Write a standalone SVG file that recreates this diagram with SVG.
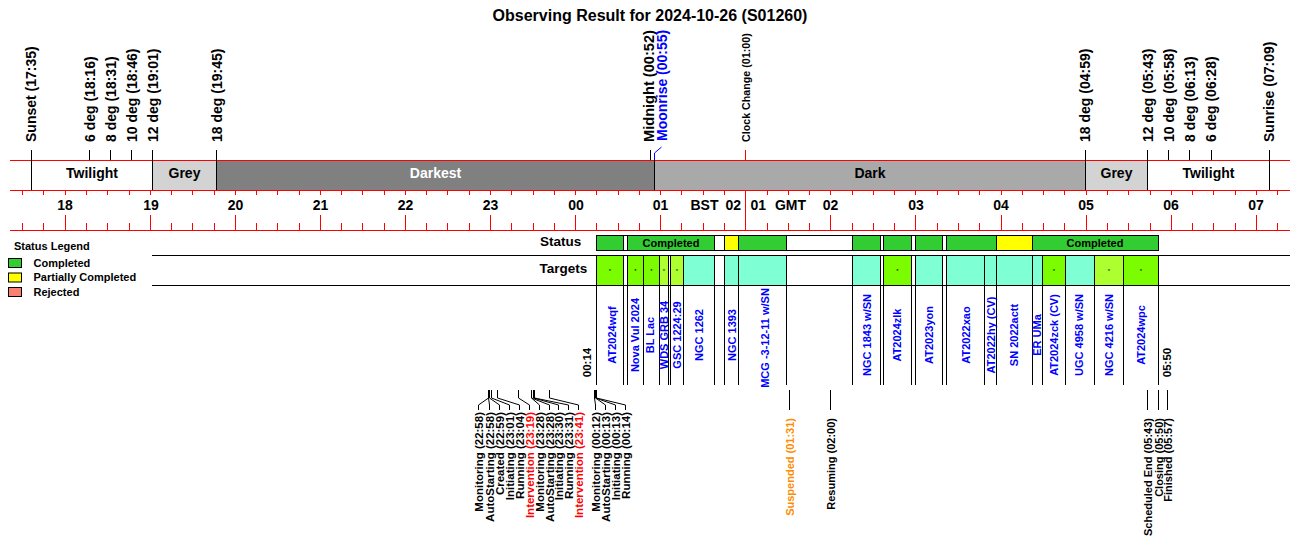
<svg xmlns="http://www.w3.org/2000/svg" width="1300" height="560" viewBox="0 0 1300 560">
<style>
text{font-family:"Liberation Sans",Arial,Helvetica,sans-serif;font-weight:bold;fill:#000}
.title{font-size:16px;text-anchor:middle}
.lab{font-size:14px}
.ax{font-size:14px;text-anchor:middle}
.band{font-size:14px;text-anchor:middle}
.tgt{font-size:11px;fill:#0000ff;text-anchor:middle}
.tm{font-size:11.5px;text-anchor:middle}
.ev{font-size:11.5px;text-anchor:end}
.ev2{font-size:11px;text-anchor:end}
.row{font-size:13.5px}
.lgt{font-size:11px}
.red{stroke:#ff0000;fill:none;stroke-width:1}
.blk{stroke:#000;fill:none;stroke-width:1}
.comp{fill:#32cd32;stroke:#000}
.part{fill:#ffff00;stroke:#000}
.lg{fill:#7cfc00;stroke:#000}
.gy{fill:#adff2f;stroke:#000}
.aq{fill:#7fffd4;stroke:#000}
.star{font-size:6px;text-anchor:middle;font-weight:normal}
</style>
<rect width="1300" height="560" fill="#fff"/>
<text class="title" x="650" y="21">Observing Result for 2024-10-26 (S01260)</text>

<g id="band">
<rect x="152.5" y="160" width="64" height="30" fill="#d3d3d3"/>
<rect x="216.5" y="160" width="438" height="30" fill="#808080"/>
<rect x="654.5" y="160" width="431" height="30" fill="#a9a9a9"/>
<rect x="1085.5" y="160" width="62" height="30" fill="#d3d3d3"/>
<text class="band" x="92" y="178">Twilight</text>
<text class="band" x="184.5" y="178">Grey</text>
<text class="band" x="435.5" y="178" style="fill:#fff">Darkest</text>
<text class="band" x="870" y="178">Dark</text>
<text class="band" x="1116.5" y="178">Grey</text>
<text class="band" x="1208.5" y="178">Twilight</text>
</g>

<g id="axis">
<path class="red" d="M10 160.5H1290M10 190.5H1290M10 230.5H1290"/>
<path class="red" d="M22.5 190V195M43.5 190V195M65.5 190V195M86.5 190V195M107.5 190V195M129.5 190V195M150.5 190V195M171.5 190V195M192.5 190V195M214.5 190V195M235.5 190V195M256.5 190V195M277.5 190V195M299.5 190V195M320.5 190V195M341.5 190V195M362.5 190V195M384.5 190V195M405.5 190V195M426.5 190V195M447.5 190V195M469.5 190V195M490.5 190V195M511.5 190V195M533.5 190V195M554.5 190V195M575.5 190V195M596.5 190V195M618.5 190V195M639.5 190V195M660.5 190V195M681.5 190V195M703.5 190V195M724.5 190V195M767.5 190V195M788.5 190V195M809.5 190V195M830.5 190V195M852.5 190V195M873.5 190V195M894.5 190V195M915.5 190V195M937.5 190V195M958.5 190V195M979.5 190V195M1001.5 190V195M1022.5 190V195M1043.5 190V195M1064.5 190V195M1086.5 190V195M1107.5 190V195M1128.5 190V195M1150.5 190V195M1171.5 190V195M1192.5 190V195M1213.5 190V195M1235.5 190V195M1256.5 190V195M1277.5 190V195"/>
<path class="red" d="M22.5 223V230M43.5 223V230M86.5 223V230M107.5 223V230M129.5 223V230M171.5 223V230M192.5 223V230M214.5 223V230M256.5 223V230M277.5 223V230M299.5 223V230M341.5 223V230M362.5 223V230M384.5 223V230M426.5 223V230M447.5 223V230M469.5 223V230M511.5 223V230M533.5 223V230M554.5 223V230M596.5 223V230M618.5 223V230M639.5 223V230M681.5 223V230M703.5 223V230M724.5 223V230M767.5 223V230M788.5 223V230M809.5 223V230M852.5 223V230M873.5 223V230M894.5 223V230M937.5 223V230M958.5 223V230M979.5 223V230M1022.5 223V230M1043.5 223V230M1064.5 223V230M1107.5 223V230M1128.5 223V230M1150.5 223V230M1192.5 223V230M1213.5 223V230M1235.5 223V230M1277.5 223V230"/>
<path class="red" d="M65.5 215V230M150.5 215V230M235.5 215V230M320.5 215V230M405.5 215V230M490.5 215V230M575.5 215V230M660.5 215V230M830.5 215V230M915.5 215V230M1001.5 215V230M1086.5 215V230M1171.5 215V230M1256.5 215V230M745.5 190V230M745.5 150V160"/>
<text class="ax" x="65" y="209.5">18</text>
<text class="ax" x="151" y="209.5">19</text>
<text class="ax" x="235.5" y="209.5">20</text>
<text class="ax" x="320.5" y="209.5">21</text>
<text class="ax" x="405.5" y="209.5">22</text>
<text class="ax" x="490.5" y="209.5">23</text>
<text class="ax" x="576" y="209.5">00</text>
<text class="ax" x="660.5" y="209.5">01</text>
<text class="ax" x="704.5" y="209.5">BST</text>
<text class="ax" x="741" y="209.5" style="text-anchor:end">02</text>
<text class="ax" x="750.5" y="209.5" style="text-anchor:start">01</text>
<text class="ax" x="790.5" y="209.5">GMT</text>
<text class="ax" x="830.5" y="209.5">02</text>
<text class="ax" x="916" y="209.5">03</text>
<text class="ax" x="1001" y="209.5">04</text>
<text class="ax" x="1086" y="209.5">05</text>
<text class="ax" x="1171" y="209.5">06</text>
<text class="ax" x="1256" y="209.5">07</text>
</g>

<g id="sun-events">
<path class="blk" d="M31.5 150V190M89.5 150V160M110.5 150V160M131.5 150V160M152.5 150V190M216.5 150V190M650.5 150V160M654.5 160V190M1085.5 150V190M1147.5 150V190M1168.5 150V160M1189.5 150V160M1211.5 150V160M1269.5 150V190"/>
<path d="M654.5 160V153L661.5 147" stroke="#0000ff" fill="none"/>
<text class="lab" transform="translate(36,142) rotate(-90)">Sunset (17:35)</text>
<text class="lab" transform="translate(94.5,142) rotate(-90)">6 deg (18:16)</text>
<text class="lab" transform="translate(115.5,142) rotate(-90)">8 deg (18:31)</text>
<text class="lab" transform="translate(136.5,142) rotate(-90)">10 deg (18:46)</text>
<text class="lab" transform="translate(157.5,142) rotate(-90)">12 deg (19:01)</text>
<text class="lab" transform="translate(221.5,142) rotate(-90)">18 deg (19:45)</text>
<text class="lab" transform="translate(653.5,142) rotate(-90)" style="font-size:14.6px">Midnight (00:52)</text>
<text class="lab" transform="translate(666.5,141) rotate(-90)" style="fill:#0000ff">Moonrise (00:55)</text>
<text transform="translate(749.5,142) rotate(-90)" style="font-size:10.7px">Clock Change (01:00)</text>
<text class="lab" transform="translate(1090,142) rotate(-90)">18 deg (04:59)</text>
<text class="lab" transform="translate(1152.5,142) rotate(-90)">12 deg (05:43)</text>
<text class="lab" transform="translate(1173.5,142) rotate(-90)">10 deg (05:58)</text>
<text class="lab" transform="translate(1195,142) rotate(-90)">8 deg (06:13)</text>
<text class="lab" transform="translate(1216,142) rotate(-90)">6 deg (06:28)</text>
<text class="lab" transform="translate(1274,142) rotate(-90)">Sunrise (07:09)</text>
</g>

<g id="legend">
<text class="lgt" x="14" y="249.5">Status Legend</text>
<rect x="8.5" y="258.5" width="13" height="9" fill="#32cd32" stroke="#000"/>
<rect x="8.5" y="273" width="13" height="9" fill="#ffff00" stroke="#000"/>
<rect x="8.5" y="287.5" width="13" height="9" fill="#fa8072" stroke="#000"/>
<text class="lgt" x="33.5" y="266.5">Completed</text>
<text class="lgt" x="33.5" y="281">Partially Completed</text>
<text class="lgt" x="33.5" y="295.5">Rejected</text>
</g>

<g id="status-row">
<text class="row" x="540" y="246">Status</text>
<text class="row" x="539.5" y="273">Targets</text>
<path class="blk" d="M152 255.5H1290M152 285.5H1290"/>
<rect x="596.5" y="235.5" width="562" height="15" fill="#fff" stroke="#000"/>
<rect class="comp" x="596.5" y="235.5" width="27" height="15"/>
<rect class="comp" x="627.5" y="235.5" width="87" height="15"/>
<rect class="part" x="724.5" y="235.5" width="14" height="15"/>
<rect class="comp" x="738.5" y="235.5" width="48" height="15"/>
<rect class="comp" x="852.5" y="235.5" width="28" height="15"/>
<rect class="comp" x="883.5" y="235.5" width="28" height="15"/>
<rect class="comp" x="915.5" y="235.5" width="27" height="15"/>
<rect class="comp" x="946.5" y="235.5" width="50" height="15"/>
<rect class="part" x="996.5" y="235.5" width="36" height="15"/>
<rect class="comp" x="1032.5" y="235.5" width="126" height="15"/>
<text class="lgt" x="671" y="246.5" style="text-anchor:middle">Completed</text>
<text class="lgt" x="1095" y="246.5" style="text-anchor:middle">Completed</text>
</g>

<g id="targets-row">
<rect class="lg" x="596.5" y="255.5" width="27" height="30"/>
<rect class="lg" x="627.5" y="255.5" width="16" height="30"/>
<rect class="lg" x="643.5" y="255.5" width="16" height="30"/>
<rect class="gy" x="659.5" y="255.5" width="9" height="30"/>
<rect class="gy" x="670.5" y="255.5" width="13" height="30"/>
<rect class="aq" x="683.5" y="255.5" width="31" height="30"/>
<rect class="aq" x="724.5" y="255.5" width="14" height="30"/>
<rect class="aq" x="738.5" y="255.5" width="48" height="30"/>
<rect class="aq" x="852.5" y="255.5" width="28" height="30"/>
<rect class="lg" x="883.5" y="255.5" width="28" height="30"/>
<rect class="aq" x="915.5" y="255.5" width="27" height="30"/>
<rect class="aq" x="946.5" y="255.5" width="38" height="30"/>
<rect class="aq" x="984.5" y="255.5" width="12" height="30"/>
<rect class="aq" x="996.5" y="255.5" width="36" height="30"/>
<rect class="aq" x="1032.5" y="255.5" width="10" height="30"/>
<rect class="lg" x="1042.5" y="255.5" width="23" height="30"/>
<rect class="aq" x="1065.5" y="255.5" width="29" height="30"/>
<rect class="gy" x="1094.5" y="255.5" width="29" height="30"/>
<rect class="lg" x="1123.5" y="255.5" width="35" height="30"/>
<text class="star" x="610" y="273">*</text>
<text class="star" x="635.5" y="273">*</text>
<text class="star" x="651.5" y="273">*</text>
<text class="star" x="664" y="273">*</text>
<text class="star" x="677" y="273">*</text>
<text class="star" x="897.5" y="273">*</text>
<text class="star" x="1054" y="273">*</text>
<text class="star" x="1109" y="273">*</text>
<text class="star" x="1141" y="273">*</text>
</g>

<g id="target-columns">
<path class="blk" d="M596.5 285V385M623.5 285V385M627.5 285V385M643.5 285V385M659.5 285V385M668.5 285V385M670.5 285V385M683.5 285V385M714.5 285V385M724.5 285V385M738.5 285V385M786.5 285V385M852.5 285V385M880.5 285V385M883.5 285V385M911.5 285V385M915.5 285V385M942.5 285V385M946.5 285V385M984.5 285V385M996.5 285V385M1032.5 285V385M1042.5 285V385M1065.5 285V385M1094.5 285V385M1123.5 285V385M1158.5 285V385"/>
<text class="tgt" transform="translate(615.5,335) rotate(-90)">AT2024wqf</text>
<text class="tgt" transform="translate(639,335) rotate(-90)">Nova Vul 2024</text>
<text class="tgt" transform="translate(654,335) rotate(-90)">BL Lac</text>
<text class="tgt" transform="translate(668,335) rotate(-90)">WDS GRB 34</text>
<text class="tgt" transform="translate(680.5,335) rotate(-90)">GSC 1224:29</text>
<text class="tgt" transform="translate(703,335) rotate(-90)">NGC 1262</text>
<text class="tgt" transform="translate(735.5,335) rotate(-90)">NGC 1393</text>
<text class="tgt" transform="translate(769,338) rotate(-90)">MCG -3-12-11 w/SN</text>
<text class="tgt" transform="translate(870.5,335) rotate(-90)">NGC 1843 w/SN</text>
<text class="tgt" transform="translate(901,335) rotate(-90)">AT2024zlk</text>
<text class="tgt" transform="translate(933,335) rotate(-90)">AT2023yon</text>
<text class="tgt" transform="translate(970,335) rotate(-90)">AT2022xao</text>
<text class="tgt" transform="translate(995,335) rotate(-90)">AT2022hy (CV)</text>
<text class="tgt" transform="translate(1018,335) rotate(-90)">SN 2022actt</text>
<text class="tgt" transform="translate(1041,335) rotate(-90)">ER UMa</text>
<text class="tgt" transform="translate(1058,335) rotate(-90)">AT2024zck (CV)</text>
<text class="tgt" transform="translate(1083,335) rotate(-90)">UGC 4958 w/SN</text>
<text class="tgt" transform="translate(1113,335) rotate(-90)">NGC 4216 w/SN</text>
<text class="tgt" transform="translate(1145,335) rotate(-90)">AT2024wpc</text>
<text class="tm" transform="translate(591,362.5) rotate(-90)">00:14</text>
<text class="tm" transform="translate(1171,362.5) rotate(-90)">05:50</text>
</g>

<g id="connectors">
<path class="blk" d="M488.5 390V398L478.5 405V410M488.5 390V398L489.5 405V410M489.5 390V398L499.5 405V410M491.5 390V398L509.5 405V410M497.5 390V398L519.5 405V410M518.5 390V398L529.5 405V410M531.5 390V398L539.5 405V410M531.5 390V398L549.5 405V410M533.5 390V398L558.5 405V410M534.5 390V398L568.5 405V410M549.5 390V398L578.5 405V410M594.5 390V398L595.5 405V410M595.5 390V398L605.5 405V410M595.5 390V398L615.5 405V410M596.5 390V398L625.5 405V410M789.5 390V410M830.5 390V410M1147.5 390V410M1158.5 390V410M1167.5 390V410"/>
</g>

<g id="events">
<text class="ev" transform="translate(482.5,412) rotate(-90)">Monitoring (22:58)</text>
<text class="ev" transform="translate(493.5,412) rotate(-90)">AutoStarting (22:58)</text>
<text class="ev" transform="translate(503.5,412) rotate(-90)">Created (22:59)</text>
<text class="ev" transform="translate(513.5,412) rotate(-90)">Initiating (23:01)</text>
<text class="ev" transform="translate(523.5,412) rotate(-90)">Running (23:04)</text>
<text class="ev" transform="translate(533.5,412) rotate(-90)" style="fill:#ff0000">Intervention (23:19)</text>
<text class="ev" transform="translate(543.5,412) rotate(-90)">Monitoring (23:28)</text>
<text class="ev" transform="translate(553.5,412) rotate(-90)">AutoStarting (23:28)</text>
<text class="ev" transform="translate(562.5,412) rotate(-90)">Initiating (23:30)</text>
<text class="ev" transform="translate(572.5,412) rotate(-90)">Running (23:31)</text>
<text class="ev" transform="translate(582.5,412) rotate(-90)" style="fill:#ff0000">Intervention (23:41)</text>
<text class="ev" transform="translate(599.5,412) rotate(-90)">Monitoring (00:12)</text>
<text class="ev" transform="translate(609.5,412) rotate(-90)">AutoStarting (00:13)</text>
<text class="ev" transform="translate(619.5,412) rotate(-90)">Initiating (00:13)</text>
<text class="ev" transform="translate(629.5,412) rotate(-90)">Running (00:14)</text>
<text class="ev2" transform="translate(793.5,418) rotate(-90)" style="fill:#ff8c00">Suspended (01:31)</text>
<text class="ev2" transform="translate(835,418) rotate(-90)">Resuming (02:00)</text>
<text class="ev2" transform="translate(1151.5,418) rotate(-90)">Scheduled End (05:43)</text>
<text class="ev2" transform="translate(1162.5,418) rotate(-90)">Closing (05:50)</text>
<text class="ev2" transform="translate(1172,418) rotate(-90)">Finished (05:57)</text>
</g>
</svg>
